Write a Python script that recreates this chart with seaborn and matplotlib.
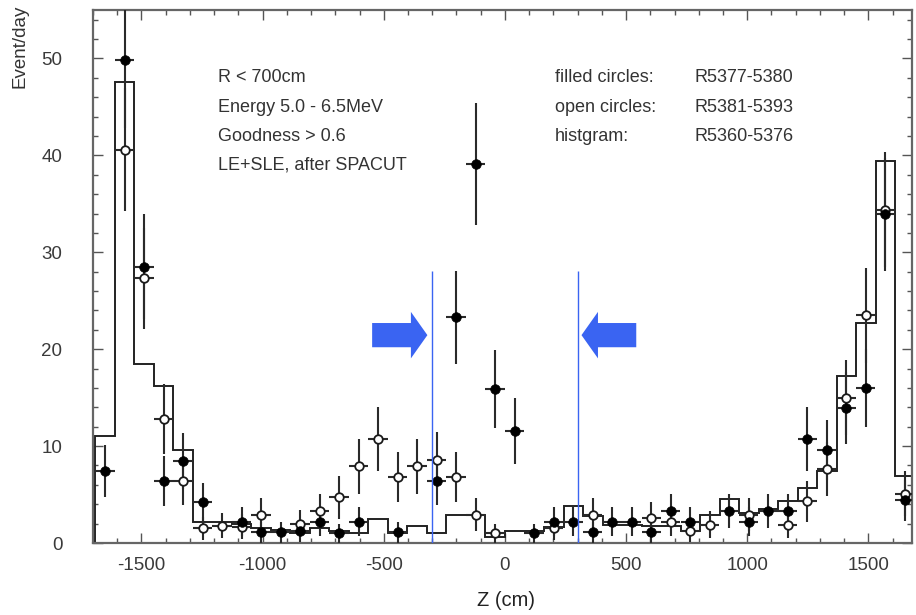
import numpy as np
import matplotlib
matplotlib.use("Agg")
import matplotlib.pyplot as plt
from matplotlib.patches import FancyArrow
from matplotlib.ticker import MultipleLocator
import seaborn as sns

nan = np.nan

# bin centres and edges (cm)
z_centers = [-1650, -1570, -1489, -1409, -1328, -1248, -1167, -1087, -1006, -926,
             -845, -765, -684, -604, -523, -443, -362, -282, -201, -121,
             -40, 40, 121, 201, 282, 362, 443, 523, 604, 684,
             765, 845, 926, 1006, 1087, 1167, 1248, 1328, 1409, 1489,
             1570, 1650]
hist_edges = [-1690, -1610, -1530, -1449, -1369, -1288, -1208, -1127, -1047, -966,
              -886, -805, -725, -644, -564, -483, -403, -322, -242, -161,
              -81, 0, 81, 161, 242, 322, 403, 483, 564, 644,
              725, 805, 886, 966, 1047, 1127, 1208, 1288, 1369, 1449,
              1530, 1610, 1690]

# histogram R5360-5376
hist_rate = [11.0, 47.6, 18.5, 16.2, 9.6, 2.2, 2.2, 2.0, 1.5, 1.3,
             1.0, 1.5, 1.2, 1.0, 2.5, 1.0, 1.8, 1.0, 2.9, 2.9,
             0.6, 1.2, 1.2, 1.7, 3.8, 2.8, 1.9, 1.9, 1.8, 1.8,
             1.2, 2.9, 4.5, 3.1, 3.5, 4.3, 5.7, 7.4, 17.2, 22.7,
             39.4, 6.9]

# filled circles R5377-5380
filled_rate = [7.4, 49.8, 28.5, 6.4, 8.5, 4.2, nan, 2.2, 1.1, 1.1,
               1.2, 2.2, 1.0, 2.2, nan, 1.1, nan, 6.4, 23.3, 39.1,
               15.9, 11.6, 1.0, 2.2, 2.2, 1.1, 2.2, 2.2, 1.1, 3.3,
               2.2, nan, 3.3, 2.2, 3.3, 3.3, 10.7, 9.6, 13.9, 16.0,
               33.9, 4.4]
filled_err = [2.7, 7.0, 5.4, 2.6, 2.9, 2.0, nan, 1.5, 1.1, 1.1,
              1.1, 1.5, 1.0, 1.5, nan, 1.1, nan, 2.5, 4.8, 6.3,
              4.0, 3.4, 1.0, 1.5, 1.5, 1.1, 1.5, 1.5, 1.1, 1.8,
              1.5, nan, 1.8, 1.5, 1.8, 1.8, 3.3, 3.1, 3.7, 4.0,
              5.8, 2.1]

# open circles R5381-5393
open_rate = [nan, 40.6, 27.3, 12.8, 6.4, 1.5, 1.8, 1.7, 2.9, nan,
             2.0, 3.3, 4.7, 7.9, 10.7, 6.8, 7.9, 8.6, 6.8, 2.9,
             1.0, nan, nan, 1.5, nan, 2.9, nan, nan, 2.6, 2.2,
             1.2, 1.9, nan, 2.9, nan, 1.9, 4.3, 7.6, 15.0, 23.5,
             34.4, 5.1]
open_err = [nan, 6.3, 5.2, 3.6, 2.5, 1.2, 1.3, 1.3, 1.7, nan,
            1.4, 1.8, 2.2, 2.8, 3.3, 2.6, 2.8, 2.9, 2.6, 1.7,
            1.0, nan, nan, 1.2, nan, 1.7, nan, nan, 1.6, 1.5,
            1.1, 1.4, nan, 1.7, nan, 1.4, 2.1, 2.8, 3.9, 4.9,
            5.9, 2.3]

half_bin = 40.25
cut_z = [-300, 300]
cut_top = 28.1

info_lines = ["R < 700cm", "Energy 5.0 - 6.5MeV", "Goodness > 0.6",
              "LE+SLE, after SPACUT"]
legend_keys = ["filled circles:", "open circles:", "histgram:"]
legend_runs = ["R5377-5380", "R5381-5393", "R5360-5376"]

sns.set_style("ticks")
plt.rcParams["font.family"] = ["Liberation Sans", "DejaVu Sans"]
plt.rcParams["axes.unicode_minus"] = False

W, H = 916, 615
fig = plt.figure(figsize=(W / 100, H / 100), dpi=100)
ax = fig.add_axes([93 / W, 1 - 543 / H, (912 - 93) / W, (543 - 10) / H])

ink = "#1a1a1a"
ax.stairs(hist_rate, hist_edges, baseline=0, color="#222222", lw=1.4, zorder=2)

ax.errorbar(z_centers, open_rate, yerr=open_err, xerr=half_bin, fmt="none",
            ecolor="#2a2a2a", elinewidth=1.5, capsize=0, zorder=3)
ax.errorbar(z_centers, filled_rate, yerr=filled_err, xerr=half_bin, fmt="none",
            ecolor="#2a2a2a", elinewidth=1.5, capsize=0, zorder=3)
sns.scatterplot(x=z_centers, y=open_rate, ax=ax, marker="o", s=38,
                facecolor="white", edgecolor=ink, linewidth=1.3, zorder=4)
sns.scatterplot(x=z_centers, y=filled_rate, ax=ax, marker="o", s=48,
                color="black", edgecolor="black", linewidth=0.5, zorder=5)

blue = "#3a64f2"
ax.vlines(cut_z, 0, cut_top, colors=blue, lw=1.0, zorder=6)
ax.add_patch(FancyArrow(-548, 21.45, 228, 0, width=2.5, head_width=4.8,
                        head_length=68, length_includes_head=True,
                        color=blue, lw=0, zorder=6))
ax.add_patch(FancyArrow(542, 21.45, -226, 0, width=2.5, head_width=4.8,
                        head_length=68, length_includes_head=True,
                        color=blue, lw=0, zorder=6))

ax.set_xlim(-1700, 1680)
ax.set_ylim(0, 55)
ax.xaxis.set_major_locator(MultipleLocator(500))
ax.xaxis.set_minor_locator(MultipleLocator(100))
ax.yaxis.set_major_locator(MultipleLocator(10))
ax.yaxis.set_minor_locator(MultipleLocator(2))
ax.tick_params(which="both", direction="in", top=True, right=True,
               colors="#555555", labelcolor="#3a3a3a", width=1.0)
ax.tick_params(which="major", length=7, labelsize=13.5)
ax.tick_params(axis="x", which="major", pad=10)
ax.tick_params(axis="y", which="major", pad=22)
ax.tick_params(which="minor", length=3.5)
for s in ax.spines.values():
    s.set_color("#666666")
    s.set_linewidth(1.6)

ax.set_xlabel("Z (cm)", fontsize=14.5, color="#222222")
ax.xaxis.label.set_va("center")
ax.xaxis.set_label_coords((506 - 93) / 819, (543 - 600) / 533)
ax.set_ylabel("Event/day", fontsize=13.5, color="#333333", loc="top")
ax.yaxis.set_label_coords((29 - 93) / 819, (543 - 5) / 533)

for i, line in enumerate(info_lines):
    fig.text(218 / W, 1 - (78 + 29 * i) / H, line, fontsize=13,
             color="#333333", va="center", ha="left")
for i, (k, r) in enumerate(zip(legend_keys, legend_runs)):
    fig.text(555 / W, 1 - (78 + 29 * i) / H, k, fontsize=13,
             color="#333333", va="center", ha="left")
    fig.text(695 / W, 1 - (78 + 29 * i) / H, r, fontsize=13,
             color="#333333", va="center", ha="left")

fig.savefig("out.png", dpi=100)
